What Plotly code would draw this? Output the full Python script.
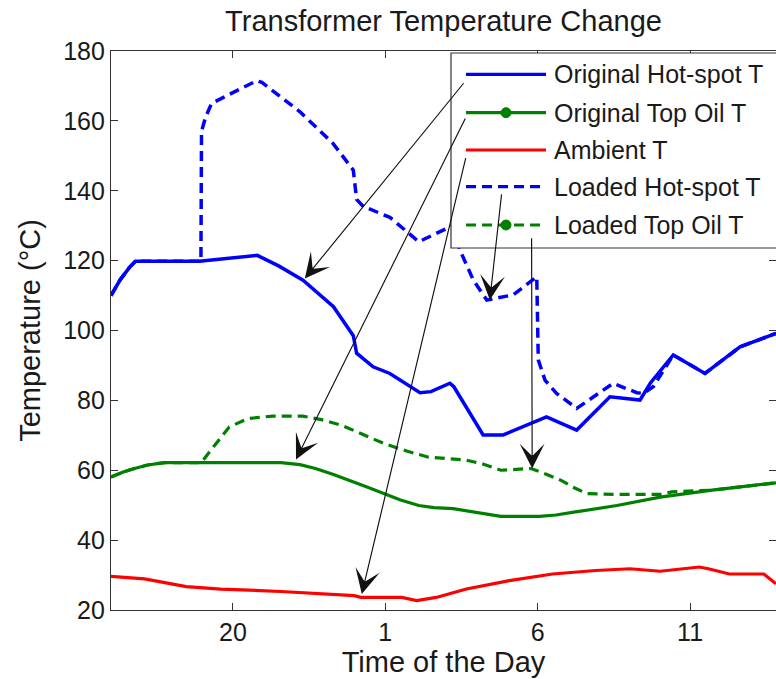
import plotly.graph_objects as go

# Time axis in hours (16 = 4 pm, 24 = midnight, 38 = 2 pm next day)
x_tick_vals = [20, 25, 30, 35]
x_tick_text = ["20", "1", "6", "11"]

# Original hot-spot temperature
hs_orig_t = [16.0, 16.3, 16.6, 16.8, 18.9, 19.95, 20.8, 21.5, 22.3, 23.3, 23.95, 24.06,
             24.6, 25.15, 25.7, 26.14, 26.5, 27.12, 27.25, 28.21, 28.87, 30.29, 31.28,
             32.37, 33.36, 33.7, 34.45, 35.49, 36.64, 37.82]
hs_orig_v = [110.0, 114.5, 118.0, 119.8, 119.8, 120.8, 121.5, 118.5, 114.4, 106.8, 98.5, 93.5,
             89.6, 87.7, 84.5, 82.2, 82.5, 84.9, 83.9, 70.1, 70.1, 75.3, 71.5,
             81.0, 80.1, 85.0, 93.0, 87.7, 95.3, 99.2]

# Loaded hot-spot temperature
hs_load_t = [16.0, 16.3, 16.6, 16.8, 18.95, 18.97, 19.1, 19.3, 20.78, 20.95, 22.2, 23.29,
             23.95, 24.06, 24.28, 25.15, 26.1, 27.12, 27.2, 27.45, 27.89, 28.33, 28.65,
             29.2, 29.97, 30.02, 30.24, 30.62, 31.28, 31.82, 32.48, 33.25, 33.47, 33.8,
             34.45, 35.49, 36.64, 37.82]
hs_load_v = [110.0, 114.5, 118.0, 119.8, 119.8, 157.0, 161.0, 165.0, 171.5, 171.0, 162.6, 153.5,
             145.9, 137.5, 135.5, 132.4, 125.4, 129.7, 130.0, 123.0, 114.4, 108.7, 109.2,
             110.2, 115.4, 91.6, 85.8, 82.0, 77.7, 81.0, 84.9, 82.2, 82.0, 84.0,
             93.0, 87.7, 95.3, 99.2]

# Original top-oil temperature
to_orig_t = [16.0, 16.4, 16.77, 17.2, 17.76, 21.58, 22.2, 22.71, 23.3, 23.84, 24.4, 24.97,
             25.5, 26.1, 26.6, 27.23, 28.0, 28.79, 30.06, 30.6, 31.19, 32.6, 34.02, 35.72, 37.82]
to_orig_v = [58.1, 59.5, 60.5, 61.5, 62.2, 62.2, 61.6, 60.5, 58.8, 57.1, 55.2, 53.3,
             51.5, 49.9, 49.3, 49.0, 48.0, 46.8, 46.8, 47.2, 48.0, 49.9, 52.3, 54.3, 56.4]

# Loaded top-oil temperature
to_load_t = [16.0, 16.4, 16.77, 17.2, 17.76, 18.96, 19.3, 19.88, 20.5, 21.3, 22.29, 22.9,
             23.56, 24.3, 24.97, 25.7, 26.39, 27.66, 28.2, 28.79, 29.78, 30.3, 30.77, 31.2,
             31.62, 32.5, 34.02, 34.4, 35.72, 37.82]
to_load_v = [58.1, 59.5, 60.5, 61.5, 62.2, 62.2, 66.0, 72.4, 74.8, 75.5, 75.5, 74.5,
             72.9, 70.2, 67.6, 65.5, 63.8, 62.9, 61.8, 60.0, 60.5, 58.8, 57.1, 55.0,
             53.3, 53.1, 53.1, 53.8, 54.3, 56.4]

# Ambient temperature
amb_t = [16.0, 17.1, 18.47, 19.6, 21.58, 22.71, 23.98, 24.2, 25.54, 26.03, 26.67, 27.66,
         29.07, 30.49, 31.9, 33.03, 34.02, 35.3, 35.6, 36.29, 37.42, 37.82]
amb_v = [29.6, 28.9, 26.7, 26.0, 25.3, 24.8, 24.1, 23.6, 23.6, 22.7, 23.6, 26.0,
         28.4, 30.3, 31.3, 31.8, 31.1, 32.3, 31.8, 30.3, 30.3, 27.5]

legend_labels = ["Original Hot-spot T", "Original Top Oil T", "Ambient T",
                 "Loaded Hot-spot T", "Loaded Top Oil T"]

# Arrows from legend entries to curves: (tail_x, tail_y, head_x, head_y)
arrow_tail_x = [27.61, 27.65, 27.65, 28.82, 29.80]
arrow_tail_y = [171.2, 161.1, 149.8, 139.4, 126.8]
arrow_head_x = [22.36, 22.07, 24.23, 28.43, 29.82]
arrow_head_y = [114.9, 63.1, 24.6, 108.7, 60.5]

BLUE = "#0000ff"
GREEN = "#008000"
RED = "#ff0000"
DASH = "10px,6px"
FONT = "Liberation Sans, Arial, Helvetica, sans-serif"
TXT = "#1a1a1a"

fig = go.Figure()
fig.add_trace(go.Scatter(x=to_orig_t, y=to_orig_v, mode="lines",
                         line=dict(color=GREEN, width=3.2)))
fig.add_trace(go.Scatter(x=to_load_t, y=to_load_v, mode="lines",
                         line=dict(color=GREEN, width=3.2, dash=DASH)))
fig.add_trace(go.Scatter(x=hs_orig_t, y=hs_orig_v, mode="lines",
                         line=dict(color=BLUE, width=3.5)))
fig.add_trace(go.Scatter(x=hs_load_t, y=hs_load_v, mode="lines",
                         line=dict(color=BLUE, width=3.5, dash=DASH)))
# ambient drawn against the right-hand (tick-only) axis, which mirrors the left one
fig.add_trace(go.Scatter(x=amb_t, y=amb_v, mode="lines", yaxis="y2",
                         line=dict(color=RED, width=3.2)))

# Plot-area geometry (pixels) used to place the hand-built legend
W, H = 776, 679
L, R, T, B = 111, 0, 51, 69
pw, ph = W - L - R, H - T - B


def px(xp):
    return (xp - L) / pw


def py(yp):
    return (H - B - yp) / ph


shapes = []
annotations = []

# legend frame
shapes.append(dict(type="rect", xref="paper", yref="paper",
                   x0=px(451), x1=px(800), y0=py(248), y1=py(53),
                   line=dict(color="#333333", width=1.2), fillcolor="white", layer="above"))

legend_rows = [74.3, 112.7, 150.0, 186.7, 225.0]
legend_styles = [(BLUE, "solid", False), (GREEN, "solid", True), (RED, "solid", False),
                 (BLUE, DASH, False), (GREEN, DASH, True)]
for label, yrow, (col, dash, dot) in zip(legend_labels, legend_rows, legend_styles):
    shapes.append(dict(type="line", xref="paper", yref="paper",
                       x0=px(466), x1=px(546), y0=py(yrow), y1=py(yrow),
                       line=dict(color=col, width=3.2, dash=dash), layer="above"))
    if dot:
        shapes.append(dict(type="circle", xref="paper", yref="paper",
                           xsizemode="pixel", ysizemode="pixel",
                           xanchor=px(506), yanchor=py(yrow),
                           x0=-5, x1=5, y0=-5, y1=5,
                           line=dict(color=col, width=1), fillcolor=col, layer="above"))
    annotations.append(dict(xref="paper", yref="paper", x=px(552), y=py(yrow),
                            text=label, showarrow=False, xanchor="left", yanchor="middle",
                            font=dict(family=FONT, size=25, color=TXT)))

for tx, ty, hx, hy in zip(arrow_tail_x, arrow_tail_y, arrow_head_x, arrow_head_y):
    annotations.append(dict(x=hx, y=hy, ax=tx, ay=ty, xref="x", yref="y",
                            axref="x", ayref="y", text="", showarrow=True,
                            arrowhead=3, arrowsize=3.6, arrowwidth=1.15,
                            arrowcolor="#111111", standoff=0, startstandoff=0))

fig.update_layout(
    width=W, height=H,
    margin=dict(l=L, r=R, t=T, b=B),
    paper_bgcolor="white", plot_bgcolor="white",
    showlegend=False,
    font=dict(family=FONT, color=TXT),
    title=dict(text="Transformer Temperature Change", x=0.5, xref="paper", xanchor="center",
               y=1 - 21 / H, yref="container", yanchor="middle",
               font=dict(family=FONT, size=29, color=TXT)),
    xaxis=dict(range=[16, 37.82], tickvals=x_tick_vals, ticktext=x_tick_text,
               ticks="inside", ticklen=7, tickcolor="#333333", tickwidth=1,
               showline=True, linecolor="#333333", linewidth=1.2, mirror="ticks",
               showgrid=False, zeroline=False,
               tickfont=dict(family=FONT, size=25, color=TXT),
               title=dict(text="Time of the Day", standoff=4,
                          font=dict(family=FONT, size=29, color=TXT))),
    yaxis=dict(range=[20, 180], tickvals=[20, 40, 60, 80, 100, 120, 140, 160, 180],
               ticks="inside", ticklen=7, tickcolor="#333333", tickwidth=1,
               showline=True, linecolor="#333333", linewidth=1.2,
               showgrid=False, zeroline=False,
               tickfont=dict(family=FONT, size=25, color=TXT),
               title=dict(text="Temperature (°C)", standoff=14,
                          font=dict(family=FONT, size=29, color=TXT))),
    yaxis2=dict(overlaying="y", side="right", matches="y", range=[20, 180],
                tickvals=[20, 40, 60, 80, 100, 120, 140, 160, 180],
                ticks="inside", ticklen=7, tickcolor="#333333", tickwidth=1,
                showticklabels=False, showline=False, showgrid=False, zeroline=False),
    shapes=shapes,
    annotations=annotations,
)

fig.write_html("out.html")
